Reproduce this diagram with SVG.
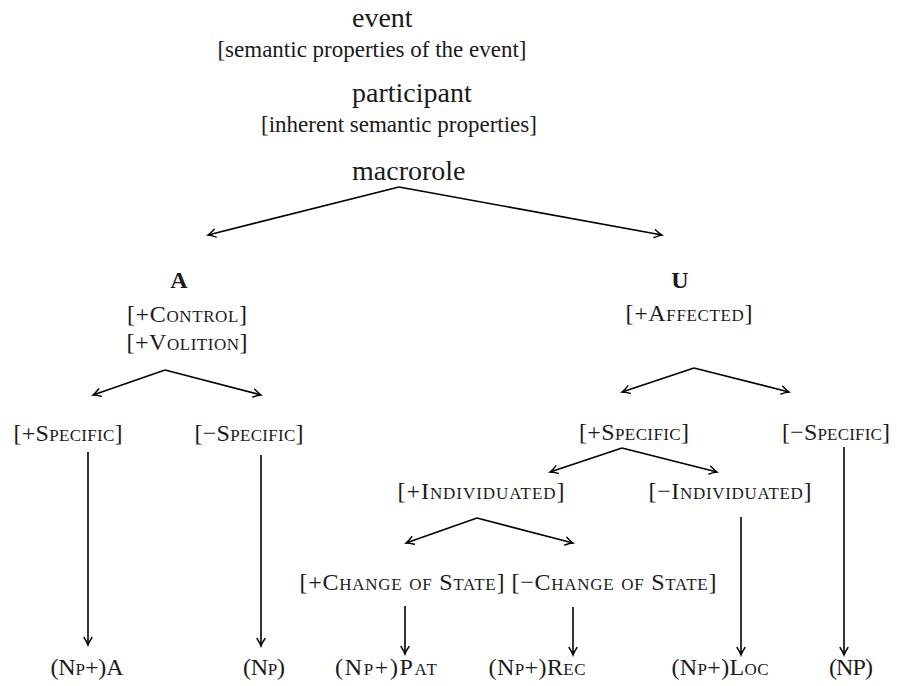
<svg xmlns="http://www.w3.org/2000/svg" width="897" height="686" viewBox="0 0 897 686">
<defs>
<marker id="ah" markerUnits="userSpaceOnUse" markerWidth="14" markerHeight="12" viewBox="-9 -6 10 12" refX="0" refY="0" orient="auto">
<path d="M-7.5,-4 Q-3,-1 0,0 Q-3,1 -7.5,4" fill="none" stroke="#000" stroke-width="1.4" stroke-linecap="round"/>
</marker>
<style>
text{font-family:"Liberation Serif","Times New Roman",serif;fill:#1a1a1a}
.big{font-size:28px}
.br{font-size:23px;text-anchor:middle}
.sc{font-size:24px;text-anchor:middle;font-variant:small-caps}
.bold{font-size:24px;font-weight:bold;text-anchor:middle}
.con{fill:none;stroke:#000;stroke-width:1.6;marker-end:url(#ah)}
</style>
</defs>
<rect width="897" height="686" fill="#fff"/>
<g id="connectors">
<path class="con" d="M399,187 L208,235"/>
<path class="con" d="M399,187 L662,235"/>
<path class="con" d="M165,370 L93,395"/>
<path class="con" d="M165,370 L261,395"/>
<path class="con" d="M694,368 L622,392"/>
<path class="con" d="M694,368 L789,392"/>
<path class="con" d="M622,448 L550,472"/>
<path class="con" d="M622,448 L717,472"/>
<path class="con" d="M477,518 L406,543"/>
<path class="con" d="M477,518 L573,543"/>
<path class="con" d="M88,452 L88,645"/>
<path class="con" d="M261,455 L261,646"/>
<path class="con" d="M405,606 L405,654"/>
<path class="con" d="M573,607 L573,655"/>
<path class="con" d="M741,517 L741,655"/>
<path class="con" d="M844,447 L844,655"/>
</g>
<g id="event">
<text class="big" x="352" y="27">event</text>
<text class="br" x="372" y="57">[semantic properties of the event]</text>
</g>
<g id="participant">
<text class="big" x="352" y="102">participant</text>
<text class="br" x="399" y="132">[inherent semantic properties]</text>
</g>
<g id="macrorole">
<text class="big" x="352" y="180">macrorole</text>
</g>
<g id="A">
<text class="bold" x="179" y="288">A</text>
<text class="sc" x="187" y="322" textLength="120" lengthAdjust="spacing">[+Control]</text>
<text class="sc" x="187" y="350" textLength="121" lengthAdjust="spacing">[+Volition]</text>
</g>
<g id="U">
<text class="bold" x="680" y="288">U</text>
<text class="sc" x="689" y="321" textLength="127" lengthAdjust="spacing">[+Affected]</text>
</g>
<g id="A-plus-specific"><text class="sc" x="68" y="441" textLength="109" lengthAdjust="spacing">[+Specific]</text></g>
<g id="A-minus-specific"><text class="sc" x="249" y="441" textLength="109" lengthAdjust="spacing">[−Specific]</text></g>
<g id="U-plus-specific"><text class="sc" x="634" y="440" textLength="110" lengthAdjust="spacing">[+Specific]</text></g>
<g id="U-minus-specific"><text class="sc" x="836" y="440" textLength="108" lengthAdjust="spacing">[−Specific]</text></g>
<g id="plus-individuated"><text class="sc" x="481" y="499" textLength="167" lengthAdjust="spacing">[+Individuated]</text></g>
<g id="minus-individuated"><text class="sc" x="730" y="499" textLength="163" lengthAdjust="spacing">[−Individuated]</text></g>
<g id="plus-change"><text class="sc" x="402" y="590" textLength="205" lengthAdjust="spacing">[+Change of State]</text></g>
<g id="minus-change"><text class="sc" x="614" y="590" textLength="205" lengthAdjust="spacing">[−Change of State]</text></g>
<g id="out-A"><text class="sc" x="87" y="675" textLength="73" lengthAdjust="spacing">(Np+)A</text></g>
<g id="out-Np"><text class="sc" x="264" y="675" textLength="42" lengthAdjust="spacing">(Np)</text></g>
<g id="out-Pat"><text class="sc" x="386" y="675" textLength="102" lengthAdjust="spacing">(Np+)Pat</text></g>
<g id="out-Rec"><text class="sc" x="537" y="675" textLength="97" lengthAdjust="spacing">(Np+)Rec</text></g>
<g id="out-Loc"><text class="sc" x="720" y="675" textLength="97" lengthAdjust="spacing">(Np+)Loc</text></g>
<g id="out-NP"><text class="sc" x="851" y="675" textLength="44" lengthAdjust="spacing">(NP)</text></g>
</svg>
